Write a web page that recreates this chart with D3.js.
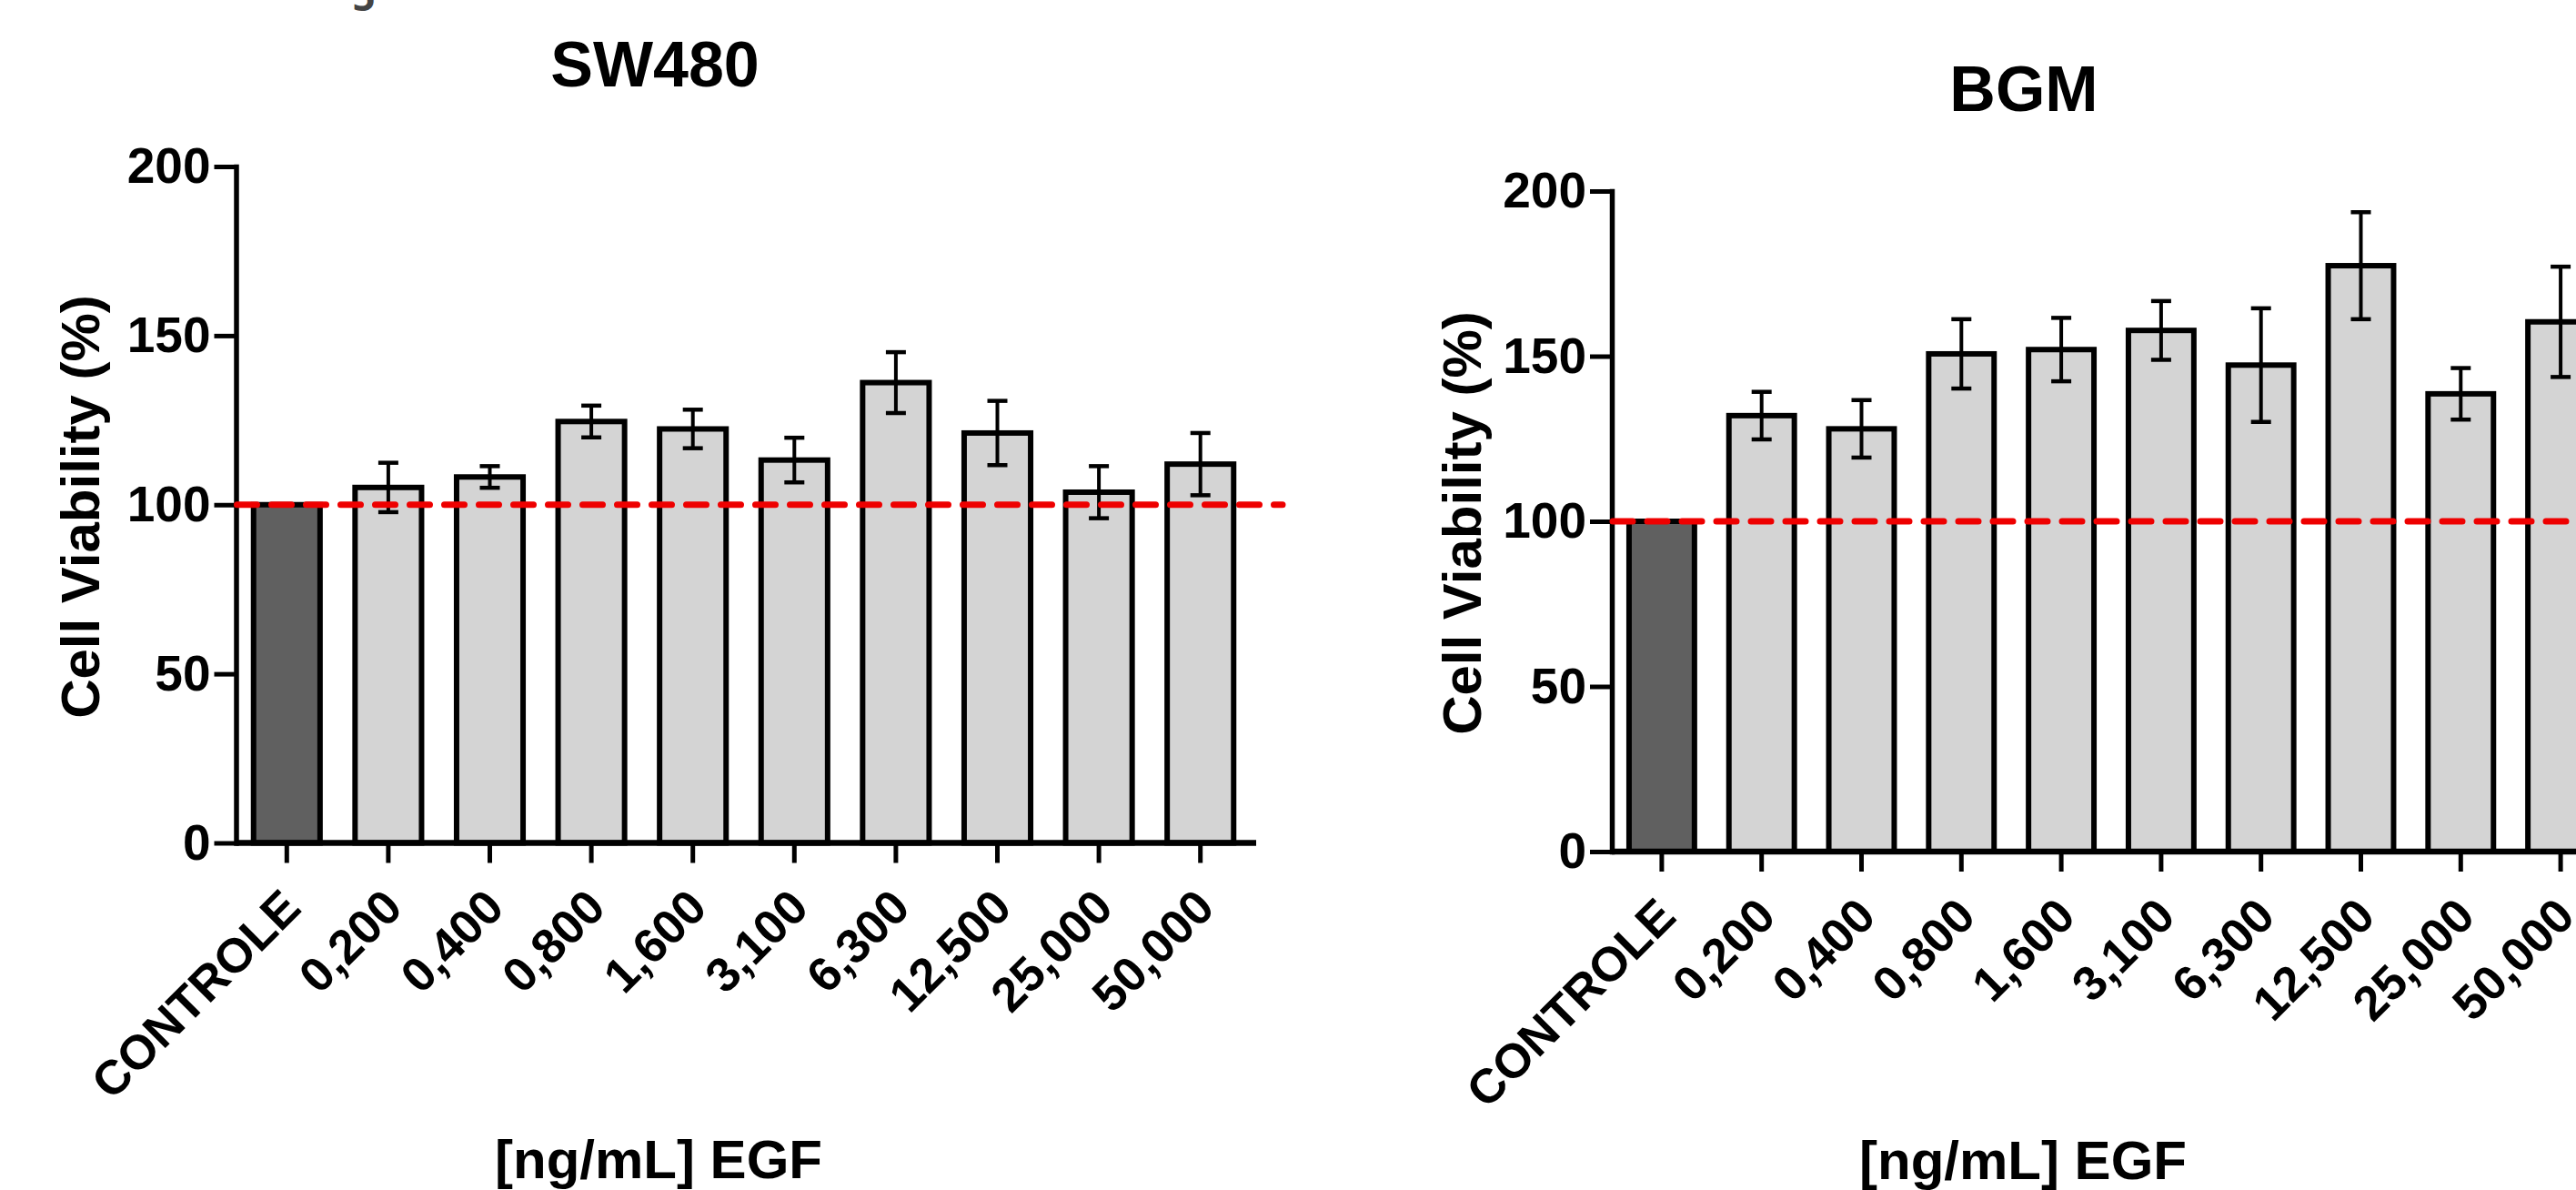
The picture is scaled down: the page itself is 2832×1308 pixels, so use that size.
<!DOCTYPE html>
<html>
<head>
<meta charset="utf-8">
<script src="https://cdn.jsdelivr.net/npm/d3@7"></script>
<style>
body { margin: 0; background: #fff; }
svg { display: block; overflow: hidden; }
text { font-family: "Liberation Sans", Arial, sans-serif; font-weight: bold; }
</style>
</head>
<body>
<script>
// values (mean and error half-length, %)
var categories = ["CONTROLE", "0,200", "0,400", "0,800", "1,600", "3,100", "6,300", "12,500", "25,000", "50,000"];
var sw480Values = [100, 105.1, 108.2, 124.6, 122.4, 113.2, 136.1, 121.2, 103.7, 112.0];
var sw480Errors = [0, 7.3, 3.2, 4.7, 5.7, 6.6, 9.0, 9.5, 7.7, 9.2];
var bgmValues = [100, 132.0, 128.0, 150.7, 152.0, 157.8, 147.3, 177.4, 138.6, 160.4];
var bgmErrors = [0, 7.2, 8.7, 10.5, 9.6, 8.9, 17.2, 16.2, 7.8, 16.7];
var yTicks = [0, 50, 100, 150, 200];
var referenceLine = 100;

var width = 2832, height = 1308;

var svg = d3.select("body")
  .append("svg")
  .attr("width", width)
  .attr("height", height);

// stray glyph cut off at the top edge of the source image
svg.append("text")
  .text("5")
  .attr("x", 400)
  .attr("y", 12)
  .attr("text-anchor", "middle")
  .style("font-family", "'Open Sans', sans-serif")
  .style("font-size", "44px")
  .attr("fill", "#444");

var drawPanel = function(cfg)
{
  var data = categories.map(function(c, i) {
    return {cat: c, value: cfg.values[i], err: cfg.errors[i], control: i == 0};
  });

  var g = svg.append("g");

  var x = d3.scaleBand()
    .domain(categories)
    .range([cfg.left, cfg.left + cfg.step * categories.length])
    .paddingInner(0.345)
    .paddingOuter(0.1725);

  var y = d3.scaleLinear()
    .domain([0, 200])
    .range([cfg.bottom, cfg.top]);

  // bars
  g.selectAll("rect.bar")
    .data(data)
    .enter()
    .append("rect")
    .attr("class", "bar")
    .attr("x", function(d) { return x(d.cat); })
    .attr("width", x.bandwidth())
    .attr("y", function(d) { return y(d.value); })
    .attr("height", function(d) { return y(0) - y(d.value); })
    .attr("fill", function(d) { return d.control ? "#606060" : "#d4d4d4"; })
    .attr("stroke", "black")
    .attr("stroke-width", 6);

  // error bars
  var eb = g.selectAll("g.err")
    .data(data.filter(function(d) { return d.err > 0; }))
    .enter()
    .append("g")
    .attr("class", "err")
    .attr("stroke", "black");

  eb.append("line")
    .attr("x1", function(d) { return x(d.cat) + x.bandwidth() / 2; })
    .attr("x2", function(d) { return x(d.cat) + x.bandwidth() / 2; })
    .attr("y1", function(d) { return y(d.value - d.err); })
    .attr("y2", function(d) { return y(d.value + d.err); })
    .attr("stroke-width", 4);

  [-1, 1].forEach(function(s) {
    eb.append("line")
      .attr("x1", function(d) { return x(d.cat) + x.bandwidth() / 2 - 11; })
      .attr("x2", function(d) { return x(d.cat) + x.bandwidth() / 2 + 11; })
      .attr("y1", function(d) { return y(d.value + s * d.err); })
      .attr("y2", function(d) { return y(d.value + s * d.err); })
      .attr("stroke-width", 4.5);
  });

  // y axis
  var yAxis = g.append("g")
    .attr("transform", "translate(" + cfg.left + ",0)")
    .call(d3.axisLeft(y).tickValues(yTicks).tickSize(24).tickSizeOuter(0).tickPadding(4));
  yAxis.select(".domain").attr("stroke-width", 5.5).attr("stroke-linecap", "square");
  yAxis.selectAll(".tick line").attr("stroke-width", 5);
  yAxis.selectAll(".tick text")
    .style("font-size", "55px")
    .attr("fill", "black");

  // x axis
  var xAxis = g.append("g")
    .attr("transform", "translate(0," + cfg.bottom + ")")
    .call(d3.axisBottom(x).tickSize(22).tickSizeOuter(0));
  xAxis.select(".domain").remove();
  xAxis.selectAll(".tick line").attr("stroke-width", 5);
  xAxis.selectAll(".tick text")
    .attr("x", 0)
    .attr("y", 0)
    .attr("dy", null)
    .attr("text-anchor", "end")
    .attr("transform", "translate(18,74) rotate(-45)")
    .style("font-size", "53px")
    .attr("fill", "black");

  g.append("line")
    .attr("x1", cfg.left)
    .attr("x2", cfg.axisEnd)
    .attr("y1", y(0))
    .attr("y2", y(0))
    .attr("stroke", "black")
    .attr("stroke-width", 6.5);

  // dashed reference line at 100 %
  g.append("line")
    .attr("x1", cfg.left + 1)
    .attr("x2", cfg.dashEnd)
    .attr("y1", y(referenceLine))
    .attr("y2", y(referenceLine))
    .attr("stroke", "#ee0000")
    .attr("stroke-width", 7)
    .attr("stroke-linecap", "round")
    .attr("stroke-dasharray", "22,16");

  // titles
  g.append("text")
    .text(cfg.title)
    .attr("x", cfg.titleX)
    .attr("y", cfg.titleY)
    .attr("text-anchor", "middle")
    .style("font-size", "70px");

  g.append("text")
    .text("Cell Viability (%)")
    .attr("transform", "translate(" + cfg.yTitleX + "," + cfg.yTitleY + ") rotate(-90)")
    .attr("text-anchor", "middle")
    .attr("dy", "0.35em")
    .style("font-size", "60px");

  g.append("text")
    .text("[ng/mL] EGF")
    .attr("x", cfg.xTitleX)
    .attr("y", cfg.xTitleY)
    .attr("text-anchor", "middle")
    .style("font-size", "60px");
};

drawPanel({
  values: sw480Values, errors: sw480Errors, title: "SW480",
  left: 259.5, step: 111.6, bottom: 926.5, top: 183,
  axisEnd: 1381, dashEnd: 1410,
  titleX: 720, titleY: 95,
  yTitleX: 88, yTitleY: 557,
  xTitleX: 724, xTitleY: 1295
});

drawPanel({
  values: bgmValues, errors: bgmErrors, title: "BGM",
  left: 1772, step: 109.8, bottom: 936, top: 210,
  axisEnd: 2900, dashEnd: 2900,
  titleX: 2225, titleY: 122,
  yTitleX: 1607, yTitleY: 575,
  xTitleX: 2224, xTitleY: 1296
});
</script>
</body>
</html>
